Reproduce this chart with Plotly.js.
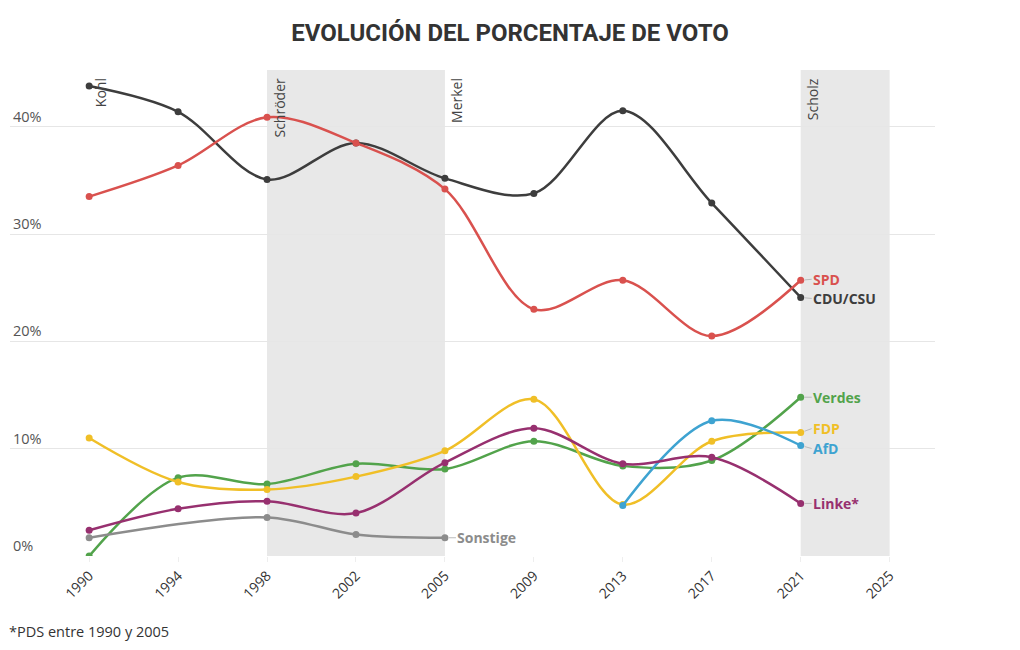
<!DOCTYPE html>
<html>
<head>
<meta charset="utf-8">
<script src="https://cdn.plot.ly/plotly-3.0.1.min.js"></script>
<style>html,body{margin:0;padding:0;background:#fff;}#chart{width:1020px;height:650px;}</style>
</head>
<body>
<div id="chart"></div>
<script>
const years = ["1990","1994","1998","2002","2005","2009","2013","2017","2021","2025"];
const cdu      = [43.8, 41.4, 35.1, 38.5, 35.2, 33.8, 41.5, 32.9, 24.1];
const spd      = [33.5, 36.4, 40.9, 38.5, 34.2, 23.0, 25.7, 20.5, 25.7];
const verdes   = [0.0, 7.3, 6.7, 8.6, 8.1, 10.7, 8.4, 8.9, 14.8];
const fdp      = [11.0, 6.9, 6.2, 7.4, 9.8, 14.6, 4.8, 10.7, 11.5];
const afd      = [null, null, null, null, null, null, 4.7, 12.6, 10.3];
const linke    = [2.4, 4.4, 5.1, 4.0, 8.7, 11.9, 8.6, 9.2, 4.9];
const sonstige = [1.7, null, 3.6, 2.0, 1.7];

const series = [
  {name:"CDU/CSU", y:cdu, color:"#3d3d3d", label:"CDU/CSU", ay:1},
  {name:"SPD", y:spd, color:"#d9514e", label:"SPD", ay:-1},
  {name:"Verdes", y:verdes, color:"#52a34b", label:"Verdes", ay:0},
  {name:"FDP", y:fdp, color:"#f0bf27", label:"FDP", ay:-4},
  {name:"AfD", y:afd, color:"#3ea3d1", label:"AfD", ay:3},
  {name:"Linke*", y:linke, color:"#97306f", label:"Linke*", ay:0},
  {name:"Sonstige", y:sonstige, color:"#8c8c8c", label:"Sonstige", ay:0}
];

const cancilleres = [
  {name:"Kohl", x:"1990"},
  {name:"Schröder", x:"1998"},
  {name:"Merkel", x:"2005"},
  {name:"Scholz", x:"2021"}
];
const shaded = [["1998","2005"],["2021","2025"]];

const FONT = "'Open Sans', 'Noto Sans', sans-serif";
const pos = y => years.indexOf(y);

const traces = series.map(s => ({
  type:"scatter", mode:"lines+markers",
  x: years.slice(0, s.y.length).map(pos), y: s.y,
  name: s.name, connectgaps:true,
  line:{color:s.color, width:2.5, shape:"spline", smoothing:0.95},
  marker:{color:s.color, size:7},
  hoverinfo:"skip"
}));

const annotations = [];
series.forEach(s => {
  let idx = s.y.length - 1;
  while (s.y[idx] === null) idx--;
  annotations.push({
    x: idx, y: s.y[idx], xref:"x", yref:"y",
    text:"<b>"+s.label+"</b>", showarrow:true, arrowhead:0, arrowwidth:1,
    arrowcolor:"#bbbbbb", ax:11, ay:s.ay, xanchor:"left", yanchor:"middle",
    standoff:4, borderpad:0,
    font:{family:FONT, size:14, color:s.color}
  });
});
cancilleres.forEach(c => {
  annotations.push({
    x:pos(c.x), y:1, xref:"x", yref:"paper", text:c.name, showarrow:false,
    textangle:-90, xanchor:"left", yanchor:"top", xshift:0, yshift:-6,
    font:{family:FONT, size:14, color:"#444"}
  });
});
annotations.push({
  x:0, y:0, xref:"paper", yref:"paper", xanchor:"left", yanchor:"top",
  yshift:-64, xshift:-3, showarrow:false, text:"*PDS entre 1990 y 2005",
  font:{family:FONT, size:14.5, color:"#333"}
});

const shapes = shaded.map(r => ({
  type:"rect", xref:"x", yref:"paper", x0:pos(r[0]), x1:pos(r[1]), y0:0, y1:1,
  fillcolor:"#e8e8e8", line:{width:0}, layer:"below"
}));

const layout = {
  width:1020, height:650,
  margin:{l:10, r:85, t:70, b:94},
  paper_bgcolor:"#fff", plot_bgcolor:"rgba(0,0,0,0)",
  showlegend:false, hovermode:false,
  font:{family:FONT, color:"#333"},
  title:{text:"<b>EVOLUCIÓN DEL PORCENTAJE DE VOTO</b>", x:0.5, xanchor:"center", y:0.963,
         font:{family:"Roboto, sans-serif", size:24, color:"#333"}},
  xaxis:{type:"linear", range:[-0.89, 9.51],
         tickvals:years.map(pos), ticktext:years, tickangle:-45,
         showgrid:false, zeroline:false, showline:false,
         ticks:"outside", ticklen:5, tickcolor:"#eeeeee",
         tickfont:{family:FONT, size:14, color:"#333"}},
  yaxis:{range:[0, 45.3], tickvals:[0,10,20,30,40], ticktext:["0%","10%","20%","30%","40%"],
         ticklabelposition:"inside top", showgrid:true, gridcolor:"#e6e6e6", gridwidth:1,
         zeroline:false, showline:false,
         tickfont:{family:FONT, size:14.5, color:"#555"}},
  shapes:shapes, annotations:annotations
};

Plotly.newPlot("chart", traces, layout, {displayModeBar:false, staticPlot:true});
</script>
</body>
</html>
